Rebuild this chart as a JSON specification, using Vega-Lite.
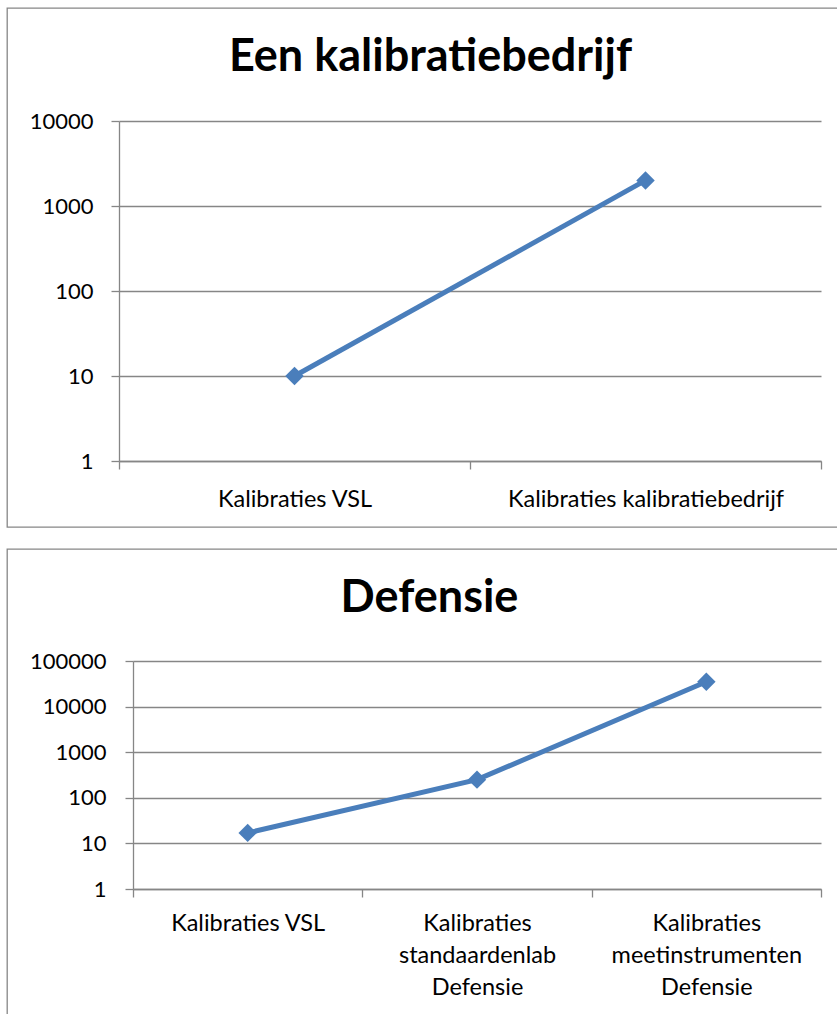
{
  "$schema": "https://vega.github.io/schema/vega-lite/v6.json",
  "background": "white",
  "padding": {"left": 6, "top": 7, "right": 0, "bottom": 0},
  "spacing": 20,
  "config": {
    "font": "Lato",
    "view": {"stroke": "#868686", "strokeWidth": 1.3},
    "axis": {
      "domainColor": "#868686",
      "domainWidth": 1.3,
      "tickColor": "#868686",
      "tickWidth": 1.3,
      "tickSize": 8,
      "gridColor": "#868686",
      "gridWidth": 1.3,
      "gridOpacity": 1,
      "labelColor": "#000000",
      "labelFont": "Lato",
      "labelFontSize": 22,
      "labelLimit": 0,
      "title": null
    },
    "title": {"font": "Lato", "fontWeight": "bold", "fontSize": 45, "color": "#000000", "anchor": "middle"}
  },
  "vconcat": [
    {
      "width": 831,
      "height": 519,
      "title": {"text": "Een kalibratiebedrijf", "offset": -72, "dx": 8},
      "data": {"values": [
        {"categorie": "Kalibraties VSL", "aantal": 10},
        {"categorie": "Kalibraties kalibratiebedrijf", "aantal": 2000}
      ]},
      "mark": {"type": "line", "color": "#4A7EBB", "strokeWidth": 5,
        "point": {"shape": "diamond", "size": 340, "filled": true, "color": "#4A7EBB", "opacity": 1}},
      "encoding": {
        "x": {"field": "categorie", "type": "nominal", "sort": null,
          "scale": {"type": "band", "range": [112, 814], "paddingInner": 0, "paddingOuter": 0},
          "axis": {"labelAngle": 0, "tickBand": "extent", "offset": -66, "grid": false, "labelPadding": 18, "labelFontSize": 23.5}},
        "y": {"field": "aantal", "type": "quantitative",
          "scale": {"type": "log", "domain": [1, 10000], "range": [453, 113]},
          "axis": {"values": [1, 10, 100, 1000, 10000], "format": "d", "offset": -112, "grid": true, "labelPadding": 18}}
      }
    },
    {
      "width": 831,
      "height": 468,
      "title": {"text": "Defensie", "offset": -72, "dx": 7},
      "data": {"values": [
        {"categorie": "Kalibraties VSL", "aantal": 17},
        {"categorie": "Kalibraties standaardenlab Defensie", "aantal": 250},
        {"categorie": "Kalibraties meetinstrumenten Defensie", "aantal": 35000}
      ]},
      "mark": {"type": "line", "color": "#4A7EBB", "strokeWidth": 5,
        "point": {"shape": "diamond", "size": 340, "filled": true, "color": "#4A7EBB", "opacity": 1}},
      "encoding": {
        "x": {"field": "categorie", "type": "nominal", "sort": null,
          "scale": {"type": "band", "range": [126, 814], "paddingInner": 0, "paddingOuter": 0},
          "axis": {"labelAngle": 0, "tickBand": "extent", "offset": -128, "grid": false, "labelPadding": 14,
            "labelFontSize": 23.5, "labelLineHeight": 32,
            "labelExpr": "datum.label == 'Kalibraties VSL' ? datum.label : split(datum.label, ' ')"}},
        "y": {"field": "aantal", "type": "quantitative",
          "scale": {"type": "log", "domain": [1, 100000], "range": [340, 112]},
          "axis": {"values": [1, 10, 100, 1000, 10000, 100000], "format": "d", "offset": -126, "grid": true, "labelPadding": 19}}
      }
    }
  ]
}
